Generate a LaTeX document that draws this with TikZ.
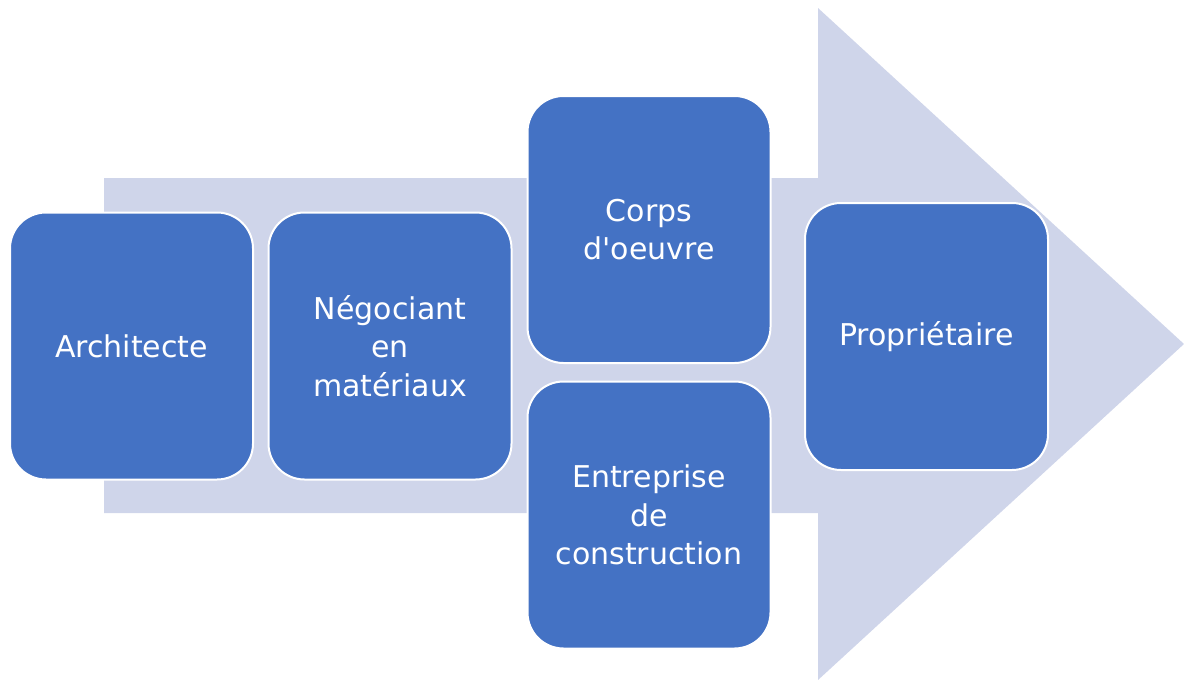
\documentclass[tikz,border=0pt]{standalone}
\usepackage{fontspec}
\setmainfont{DejaVu Sans}
\usepackage{tikz}
\definecolor{stepblue}{HTML}{4472C4}
\definecolor{arrowgrey}{HTML}{CFD5EA}

\begin{document}
\begin{tikzpicture}
[x=1pt, y=-1pt,
actor/.style={fill=stepblue, draw=white, line width = 2pt, rounded corners = 36pt, minimum width = 243pt, minimum height = 267pt, text = white, align = center, font = \fontsize{30}{38.5}\selectfont},
flow/.style={fill=arrowgrey, draw=none}]
\useasboundingbox (0,0) rectangle (1184,680);
\fill[flow] (104,178) -- (818,178) -- (818,8) -- (1184,344) -- (818,680) -- (818,513) -- (104,513) -- cycle;
\node[actor] (architecte) at (131.5,346) {Architecte};
\node[actor] (negociant) at (390,346) {Négociant\\en\\matériaux};
\node[actor] (corps) at (649,229.5) {Corps\\d\textquotesingle oeuvre};
\node[actor] (entreprise) at (649,515) {Entreprise\\de\\construction};
\node[actor] (proprietaire) at (926.5,336.5) {Propriétaire};
\end{tikzpicture}
\end{document}
